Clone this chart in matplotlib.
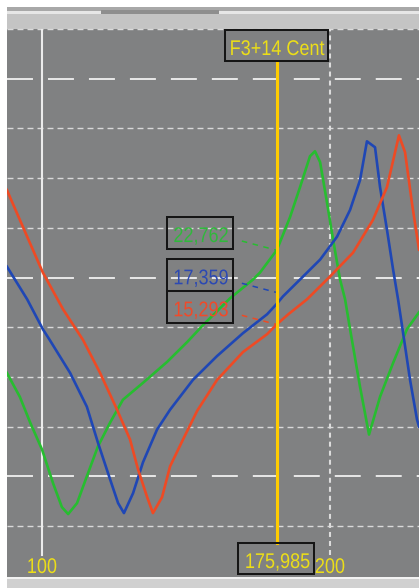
import numpy as np
import matplotlib
matplotlib.use("Agg")
import matplotlib.pyplot as plt
from matplotlib import font_manager, patheffects
from matplotlib.patches import Rectangle
from matplotlib.lines import Line2D
from matplotlib.transforms import IdentityTransform, Affine2D

# ---------------- data ----------------
red_freq = [91.9, 96.5, 100.2, 105.2, 110.4, 115.0, 119.8, 123.6, 126.0, 128.8, 130.6,
            133.5, 136.1, 140.4, 145.3, 152.4, 162.2, 171.9, 175.985, 180.9, 189.2, 200.0,
            211.4, 221.8, 229.4, 233.9, 236.1, 239.6, 243.6, 247.8]
red_level = [28.8, 24.1, 20.5, 16.8, 13.7, 10.4, 6.7, 3.7, 0.7, -2.1, -3.7,
             -2.1, 1.0, 3.7, 6.6, 9.7, 12.5, 14.3, 15.293, 16.3, 17.8, 20.1,
             22.5, 25.8, 29.1, 32.6, 34.3, 32.6, 27.5, 22.8]

blue_freq = [91.9, 96.5, 100.2, 101.9, 107.0, 111.4, 114.4, 117.8, 120.1, 121.8, 124.5,
             127.5, 131.9, 136.1, 143.8, 152.4, 162.2, 171.9, 175.985, 178.6,
             186.1, 195.3, 203.4, 209.9, 215.0, 218.6, 222.9, 225.6, 229.4, 232.8,
             235.6, 237.9, 242.5, 246.6, 247.8]
blue_level = [21.1, 17.8, 14.8, 13.7, 10.4, 7.0, 3.4, -0.3, -2.7, -3.7, -1.7,
              1.4, 4.7, 6.7, 9.7, 12.1, 14.4, 16.3, 17.359, 18.1,
              19.8, 21.8, 24.1, 26.8, 29.8, 33.7, 33.1, 29.1, 24.8, 20.8,
              17.8, 15.1, 9.7, 5.7, 5.0]

green_freq = [91.9, 94.8, 97.2, 100.0, 102.7, 104.9, 106.5, 108.8, 111.4, 114.4, 117.8,
              121.5, 127.5, 135.1, 141.8, 147.3, 157.2, 166.2, 169.0,
              175.985, 181.7, 186.1, 190.6, 192.9, 195.3, 198.6, 201.5, 204.9, 207.4,
              209.9, 215.0, 219.7, 225.6, 232.8, 240.7, 247.8]
green_level = [10.4, 8.0, 5.4, 2.7, -0.7, -3.1, -3.8, -2.7, 0.0, 3.0, 5.4,
               7.7, 9.4, 11.5, 13.5, 15.2, 17.9, 19.8, 20.5,
               22.762, 26.1, 29.1, 32.2, 32.7, 31.6, 27.5, 23.8, 19.8, 17.8,
               14.8, 9.0, 4.2, 8.0, 11.4, 14.8, 16.5]

cursor_freq = 175.985
cursor_note = "F3+14 Cent"
readout_green = 22.762
readout_blue = 17.359
readout_red = 15.293

x_ticks = [100, 200]
x_tick_labels = ["100", "200"]
major_levels = [0, 20, 40]
minor_levels = [-5, 5, 10, 15, 25, 30, 35, 45]

# ---------------- style ----------------
plt.rcParams["lines.scale_dashes"] = False
names = {f.name for f in font_manager.fontManager.ttflist}
if "Liberation Sans Narrow" in names:
    FONT, FS, SY = "Liberation Sans Narrow", 15.0, 1.0
else:
    FONT, FS, SY = "Liberation Sans", 13.0, 1.18

BG = "#808182"
C_RED, C_BLUE, C_GREEN = "#ee4a24", "#1f47b5", "#27bd30"
T_RED, T_BLUE, T_GREEN = "#f04a2a", "#2c49b2", "#30b83c"
YEL_LINE, YEL_TEXT = "#ffcc00", "#ecde18"
BOX_EDGE = "#151515"

W, H = 419, 588
fig = plt.figure(figsize=(W / 100, H / 100), dpi=100, facecolor="white")


def fx(px):
    return px / W


def fy(py):
    return 1 - py / H


def frect(x0, y0, x1, y1, color):
    fig.add_artist(Rectangle((fx(x0), fy(y1)), fx(x1) - fx(x0), fy(y0) - fy(y1),
                             transform=fig.transFigure, facecolor=color,
                             edgecolor="none", zorder=-5))


# window frame
frect(7, 7, 419, 11, "#a8a8a8")
frect(7, 11, 419, 14, "#e6e6e6")
frect(101, 10, 219, 14, "#8e8e8e")
frect(7, 14, 419, 29, "#c4c4c4")
frect(7, 29, 419, 577, BG)
frect(7, 577, 419, 579, "#f2f2f2")
frect(7, 579, 419, 588, "#d0d0d0")

top_py = 29
bot_py = 29 + 11 * 49.7
ax = fig.add_axes([fx(7), fy(bot_py), fx(419) - fx(7), (bot_py - top_py) / H])
ax.set_axis_off()
ax.set_xscale("log", base=2)
ax.set_xlim(91.92, 247.78)
ax.set_ylim(-10, 45)
axh = bot_py - top_py


def yfrac(py):
    return (bot_py - py) / axh


# grid
for lv in minor_levels:
    ax.axhline(lv, color="#d9d9d9", lw=1.0, dashes=(4.3, 2.9), clip_on=False, zorder=1)
for lv in major_levels:
    ax.axhline(lv, color="#e8e8e8", lw=1.4, dashes=(18.7, 10.8), zorder=1)
vstyles = [dict(color="#ececec", lw=1.5), dict(color="#dcdcdc", lw=1.5, dashes=(3.6, 2.9))]
for xv, st in zip(x_ticks, vstyles):
    ax.axvline(xv, ymin=yfrac(555), ymax=1, zorder=1, **st)

# curves
for fr, lv, col in [(green_freq, green_level, C_GREEN),
                    (blue_freq, blue_level, C_BLUE),
                    (red_freq, red_level, C_RED)]:
    ax.plot(fr, lv, color=col, lw=1.9, zorder=3, solid_joinstyle="round")

# cursor
ax.axvline(cursor_freq, ymin=yfrac(543), ymax=yfrac(61), color=YEL_LINE, lw=2.2, zorder=5)

fig.canvas.draw()
ident = IdentityTransform()


def disp(xv, yv):
    return ax.transData.transform((xv, yv))


cx = disp(cursor_freq, 0)[0]


def D(py):
    return H - py


class VStretch(patheffects.AbstractPathEffect):
    """Stretch glyphs vertically about the text baseline (narrow-tall look)."""

    def __init__(self, sy, y0):
        super().__init__()
        self.sy, self.y0 = sy, y0

    def draw_path(self, renderer, gc, tpath, affine, rgbFace=None):
        t = affine + Affine2D().translate(0, -self.y0).scale(1, self.sy).translate(0, self.y0)
        renderer.draw_path(gc, tpath, t, rgbFace)


def box(x0, y0, x1, y1):
    fig.add_artist(Rectangle((x0, D(y1)), x1 - x0, y1 - y0, transform=ident,
                             facecolor="none", edgecolor=BOX_EDGE, lw=1.45, zorder=6))


def label(x, py_base, s, color, ha="center"):
    t = fig.text(x, D(py_base), s, transform=ident, ha=ha, va="baseline", color=color,
                 fontsize=FS, family=[FONT, "DejaVu Sans"], zorder=7)
    if SY != 1.0:
        t.set_path_effects([VStretch(SY, D(py_base))])
    return t


# top note label
box(cx - 51.5, 30, cx + 51.5, 61)
label(cx, 55, cursor_note, YEL_TEXT)

# bottom cursor readout
box(cx - 38.5, 543, cx + 37.5, 574)
label(cx + 0.5, 568, f"{cursor_freq:.3f}".replace(".", ","), YEL_TEXT)

# tick labels
for xv, lab in zip(x_ticks, x_tick_labels):
    label(disp(xv, 0)[0], 573, lab, YEL_TEXT)

# value readouts
gy = H - disp(cursor_freq, readout_green)[1]
ry = H - disp(cursor_freq, readout_red)[1]
centers = {"green": gy - 17, "red": ry - 17}
centers["blue"] = centers["red"] - 32
for key, val, tc, lc in [("green", readout_green, T_GREEN, C_GREEN),
                         ("blue", readout_blue, T_BLUE, C_BLUE),
                         ("red", readout_red, T_RED, C_RED)]:
    c = centers[key]
    bx0, bx1 = cx - 110, cx - 44
    box(bx0, c - 16, bx1, c + 16)
    label((bx0 + bx1) / 2 + 1, c + 9, f"{val:.3f}".replace(".", ","), tc)
    fig.add_artist(Line2D([bx1 + 9, cx - 1], [D(c + 8), D(c + 17)], transform=ident,
                          color=lc, lw=1.1, dashes=(4, 4), zorder=6))

fig.savefig("out.png", dpi=100, facecolor="white")
